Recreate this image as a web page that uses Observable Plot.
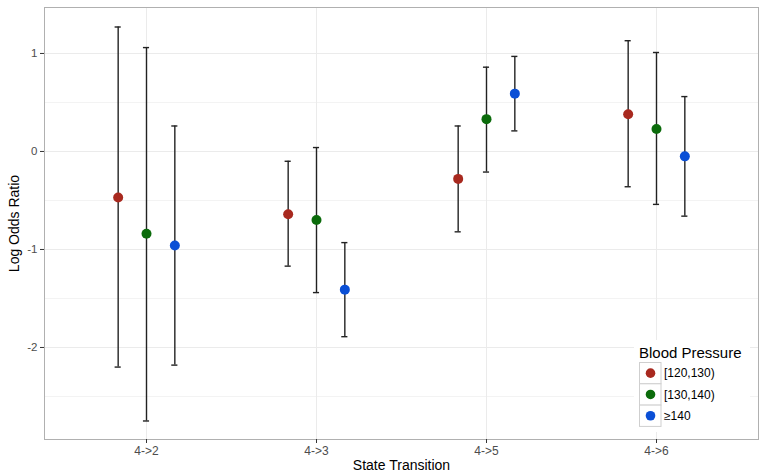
<!DOCTYPE html>
<html>
<head>
<meta charset="utf-8">
<script src="https://cdn.jsdelivr.net/npm/d3@7"></script>
<script src="https://cdn.jsdelivr.net/npm/@observablehq/plot@0.6"></script>
<style>
  html, body { margin: 0; padding: 0; background: #fff; }
  #chart svg { display: block; }
</style>
</head>
<body>
<div id="chart"></div>
<script>
// ---- data ----
const categories = ["4->2", "4->3", "4->5", "4->6"];
const groups = ["[120,130)", "[130,140)", "≥140"];
const colors = ["#a8291f", "#0b6b0b", "#0a4fd6"];

const est120 = [-0.47, -0.64, -0.28, 0.38];
const est130 = [-0.84, -0.70, 0.33, 0.23];
const est140 = [-0.96, -1.41, 0.59, -0.05];
const lower120 = [-2.20, -1.17, -0.82, -0.36];
const upper120 = [1.27, -0.10, 0.26, 1.13];
const lower130 = [-2.75, -1.44, -0.21, -0.54];
const upper130 = [1.06, 0.04, 0.86, 1.01];
const lower140 = [-2.18, -1.89, 0.21, -0.66];
const upper140 = [0.26, -0.93, 0.97, 0.56];

const yMajor = [-2, -1, 0, 1];
const yMinor = [-2.5, -1.5, -0.5, 0.5];

// ---- table ----
const series = [
  {g: groups[0], est: est120, lo: lower120, hi: upper120},
  {g: groups[1], est: est130, lo: lower130, hi: upper130},
  {g: groups[2], est: est140, lo: lower140, hi: upper140}
];
const dodge = 0.5 / 3;
const capHalf = 0.018;
const rows = [];
series.forEach((s, gi) => {
  categories.forEach((c, ci) => {
    const x = ci + 1 + (gi - 1) * dodge;
    rows.push({cat: c, group: s.g, x, est: s.est[ci], lo: s.lo[ci], hi: s.hi[ci]});
  });
});
const catIdx = categories.map((c, i) => i + 1);

const font = "'Liberation Sans', Arial, Helvetica, sans-serif";

const chart = Plot.plot({
  width: 759,
  height: 472,
  marginLeft: 44,
  marginRight: 1,
  marginTop: 7,
  marginBottom: 33,
  style: {fontFamily: font, background: "#fff"},
  x: {domain: [0.4, 4.6], axis: null},
  y: {domain: [-2.939, 1.469], axis: null},
  color: {domain: groups, range: colors},
  marks: [
    Plot.ruleY(yMinor, {stroke: "#f3f3f3", strokeWidth: 1}),
    Plot.ruleY(yMajor, {stroke: "#ebebeb", strokeWidth: 1}),
    Plot.ruleX(catIdx, {stroke: "#ebebeb", strokeWidth: 1}),
    Plot.frame({stroke: "#b0b0b0", strokeWidth: 1}),
    Plot.axisY(yMajor, {tickSize: 4, tickPadding: 3, stroke: "#333", fill: "#4d4d4d", fontSize: 11.5, tickFormat: d => String(d), label: null}),
    Plot.axisX(catIdx, {tickSize: 4, tickPadding: 3, stroke: "#333", fill: "#4d4d4d", fontSize: 12, tickFormat: i => categories[i - 1], label: null}),
    Plot.ruleX(rows, {x: "x", y1: "lo", y2: "hi", stroke: "#222", strokeWidth: 1.4}),
    Plot.ruleY(rows, {y: "lo", x1: d => d.x - capHalf, x2: d => d.x + capHalf, stroke: "#222", strokeWidth: 1.4}),
    Plot.ruleY(rows, {y: "hi", x1: d => d.x - capHalf, x2: d => d.x + capHalf, stroke: "#222", strokeWidth: 1.4}),
    Plot.dot(rows, {x: "x", y: "est", fill: "group", r: 5, stroke: "none"}),
    Plot.text(["Log Odds Ratio"], {frameAnchor: "left", dx: -30, rotate: -90, fontSize: 14, fill: "#000", textAnchor: "middle"}),
    Plot.text(["State Transition"], {frameAnchor: "bottom", dy: 26, fontSize: 14, fill: "#000", lineAnchor: "middle"})
  ]
});

document.getElementById("chart").appendChild(chart);

// ---- legend (inside panel, bottom right) ----
const svg = d3.select(chart);
const color = chart.scale("color");
const lg = svg.append("g").attr("font-family", font).attr("text-anchor", "start");
lg.append("rect").attr("x", 634).attr("y", 340).attr("width", 116).attr("height", 92).attr("fill", "#fff");
lg.append("text").attr("x", 639).attr("y", 358).attr("font-size", 15).attr("fill", "#000")
  .attr("text-anchor", "start").text("Blood Pressure");
const keyH = 21.3;
groups.forEach((g, i) => {
  const y0 = 362 + i * keyH;
  lg.append("rect").attr("x", 639.5).attr("y", y0 + 0.5).attr("width", 21.5).attr("height", keyH)
    .attr("fill", "#fff").attr("stroke", "#cfcfcf").attr("stroke-width", 1);
  lg.append("circle").attr("cx", 650.5).attr("cy", y0 + keyH / 2 + 0.5).attr("r", 4.8).attr("fill", color.apply(g));
  lg.append("text").attr("x", 664).attr("y", y0 + keyH / 2 + 0.5).attr("dy", "0.35em")
    .attr("font-size", 12).attr("fill", "#000").attr("text-anchor", "start").text(g);
});
</script>
</body>
</html>
